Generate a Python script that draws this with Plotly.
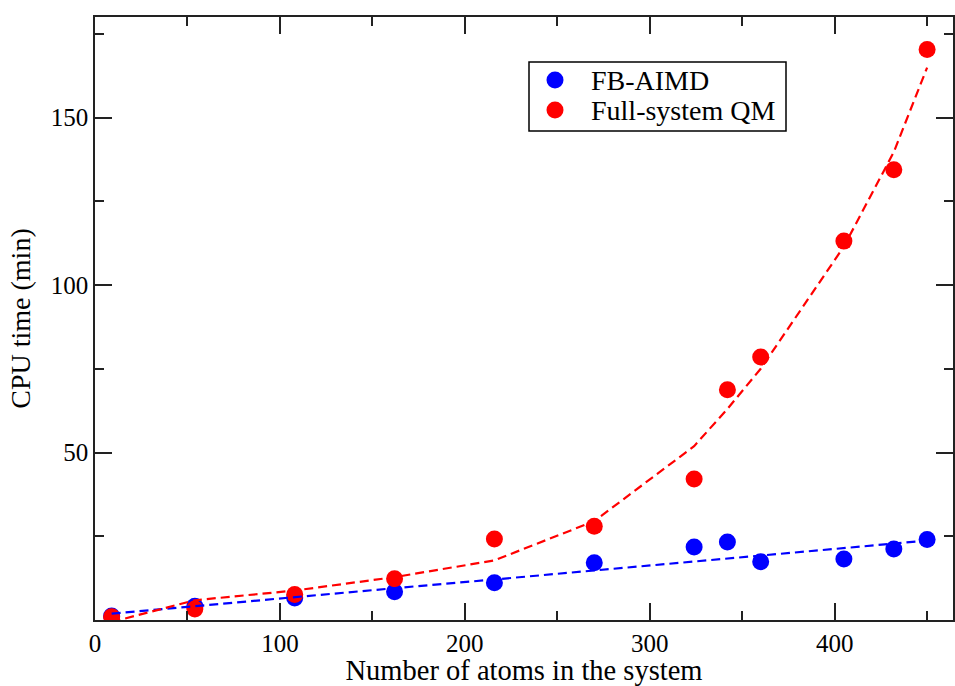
import plotly.graph_objects as go

# Data
atoms = [9, 54, 108, 162, 216, 270, 324, 342, 360, 405, 432, 450]
fb_aimd = [1.2, 4.1, 6.6, 8.4, 11.1, 17.1, 21.8, 23.3, 17.4, 18.2, 21.2, 24.0]
full_qm = [1.0, 3.3, 7.6, 12.3, 24.2, 28.0, 42.1, 68.7, 78.5, 113.1, 134.4, 170.3]
fb_fit = [1.9, 4.2, 6.8, 9.5, 12.1, 14.8, 17.5, 18.4, 19.2, 21.5, 22.8, 23.7]
qm_fit = [-0.6, 5.9, 8.8, 12.8, 17.8, 29.5, 51.9, 63.0, 75.0, 111.5, 139.7, 164.9]

series_names = ["FB-AIMD", "Full-system QM"]

x_ticks = [0, 100, 200, 300, 400]
x_minor = [50, 150, 250, 350, 450]
y_ticks = [50, 100, 150]
y_minor = [25, 75, 125, 175]

BLUE = "#0000ff"
RED = "#ff0000"
FONT = "Liberation Serif"
AX = "#222222"

W, H = 955, 686
ML, MR, MT, MB = 95, 2, 17, 65.5
PW, PH = W - ML - MR, H - MT - MB


def px(xp):
    return (xp - ML) / PW


def py(yp):
    return (H - MB - yp) / PH


fig = go.Figure()
fig.add_trace(go.Scatter(x=atoms, y=fb_aimd, mode="markers", name=series_names[0],
                         marker=dict(color=BLUE, size=17)))
fig.add_trace(go.Scatter(x=atoms, y=full_qm, mode="markers", name=series_names[1],
                         marker=dict(color=RED, size=17)))
fig.add_trace(go.Scatter(x=atoms, y=fb_fit, mode="lines", showlegend=False,
                         line=dict(color=BLUE, width=2.2, dash="9px,5px")))
fig.add_trace(go.Scatter(x=atoms, y=qm_fit, mode="lines", showlegend=False,
                         line=dict(color=RED, width=2.2, dash="9px,5px")))

axis_common = dict(
    showline=True, linecolor=AX, linewidth=1.5, mirror="ticks",
    ticks="inside", ticklen=17, tickwidth=1.5, tickcolor=AX,
    showgrid=False, zeroline=False, automargin=False,
    tickfont=dict(family=FONT, size=25, color="black"),
)

fig.update_xaxes(
    range=[0, 464], tickmode="array", tickvals=x_ticks,
    ticktext=[str(v) for v in x_ticks],
    minor=dict(tickmode="array", tickvals=x_minor, ticks="inside", ticklen=9,
               tickwidth=1.5, tickcolor=AX),
    title=dict(text="Number of atoms in the system",
               font=dict(family=FONT, size=28.5, color="black"), standoff=3),
    **axis_common,
)
fig.update_yaxes(
    range=[0, 180], tickmode="array", tickvals=y_ticks,
    ticktext=[str(v) for v in y_ticks],
    minor=dict(tickmode="array", tickvals=y_minor, ticks="inside", ticklen=9,
               tickwidth=1.5, tickcolor=AX),
    title=dict(text="CPU time (min)",
               font=dict(family=FONT, size=28, color="black"), standoff=12),
    **axis_common,
)

# Legend drawn as a boxed key (matches the reference's compact legend)
shapes = [dict(type="rect", xref="paper", yref="paper",
               x0=px(529), x1=px(786), y0=py(131), y1=py(62),
               line=dict(color="black", width=1.5), fillcolor="white", layer="above")]
annotations = []
for i, (name, col) in enumerate(zip(series_names, [BLUE, RED])):
    yc = 80 + 30 * i
    shapes.append(dict(type="circle", xref="paper", yref="paper",
                       xsizemode="pixel", ysizemode="pixel",
                       xanchor=px(555), yanchor=py(yc),
                       x0=-8.5, x1=8.5, y0=-8.5, y1=8.5,
                       fillcolor=col, line=dict(width=0), layer="above"))
    annotations.append(dict(xref="paper", yref="paper", x=px(589), y=py(yc + 1),
                            xanchor="left", yanchor="middle", showarrow=False,
                            text=name, font=dict(family=FONT, size=28, color="black")))

fig.update_layout(
    width=W, height=H,
    margin=dict(l=ML, r=MR, t=MT, b=MB, autoexpand=False),
    paper_bgcolor="white", plot_bgcolor="white",
    showlegend=False,
    shapes=shapes, annotations=annotations,
)

fig.write_html(
    "out.html",
    config={"displayModeBar": False},
    post_script="document.body.style.margin='0';document.body.style.overflow='hidden';",
)
